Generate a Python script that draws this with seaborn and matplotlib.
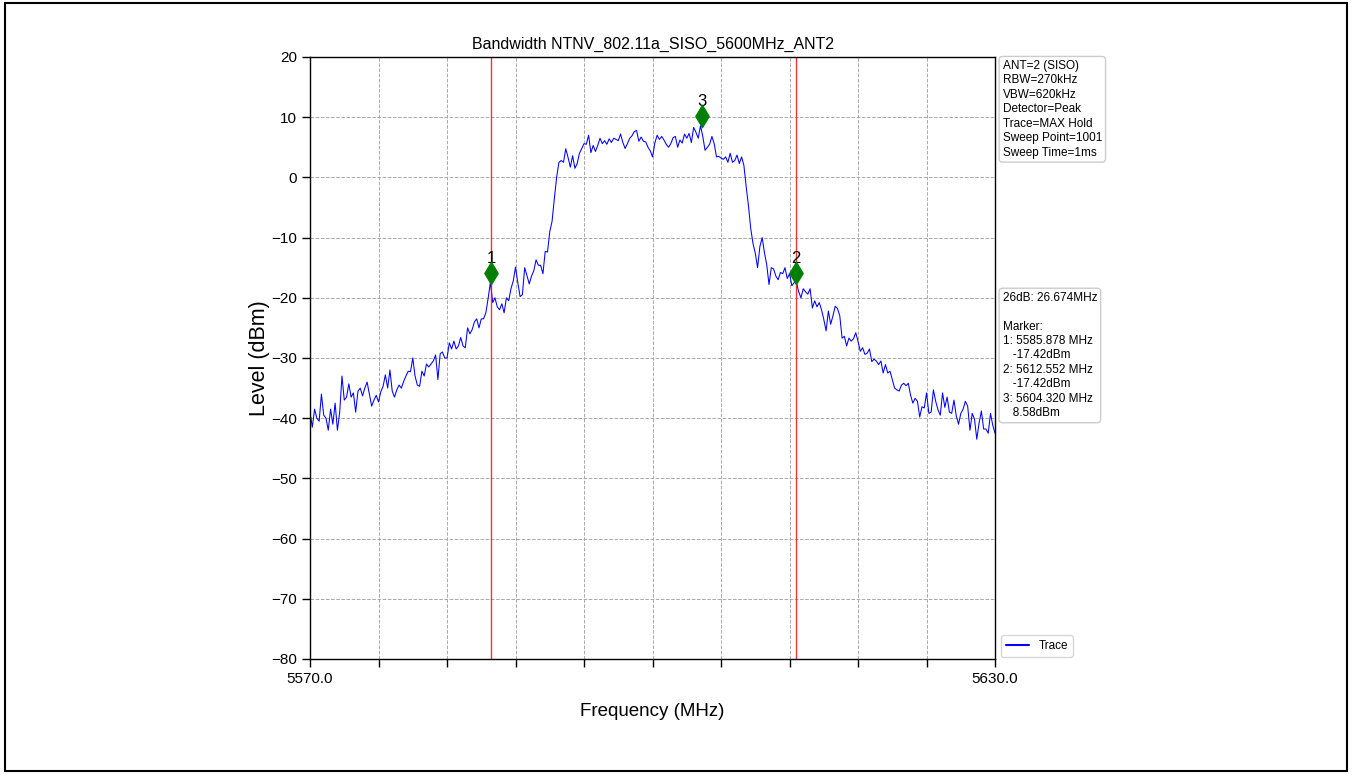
import numpy as np
import pandas as pd
import seaborn as sns
import matplotlib
matplotlib.use('Agg')
import matplotlib.pyplot as plt
from matplotlib.patches import Rectangle

# sweep axis
freq_start = 5570.0
freq_stop = 5630.0
n_points = 301

# trace levels (dBm), 0.2 MHz steps
level_5570_5585 = [
    -39, -41.5, -38.5, -40, -40.5, -36, -39.5, -40, -42, -38.5,
    -41, -37.5, -42, -39, -33, -37, -36.5, -34.3, -36.5, -35.8,
    -39, -35.5, -35, -36.3, -35, -34, -36, -38, -37, -36.2,
    -37.3, -35.6, -34.7, -32.8, -35, -32, -35.5, -36.5, -35.3, -34.5,
    -35, -33.9, -33, -32.2, -32.3, -30, -33, -34.5, -34.7, -32.2,
    -33, -31, -31.5, -31, -30.5, -29.5, -33.6, -29.3, -29, -30,
    -30, -27.5, -28.5, -27.2, -28.5, -28, -26.6, -28, -28.3, -25,
    -26, -25.3, -24, -23.5, -25, -23.5]
level_5585_5600 = [
    -23.5, -22.5, -20.1, -17.42, -20.8, -20, -21.5, -22, -21, -22.5,
    -20, -20.5, -18.5, -17.2, -14.9, -17.5, -19.8, -19.5, -15, -16.3,
    -17.7, -16.4, -15.5, -13.7, -14.6, -14.6, -16, -12.3, -12.4, -9,
    -7.3, -3.5, 0, 2.5, 2.8, 2.5, 4.75, 3.3, 1.7, 3.6,
    1.5, 2.3, 4, 4.8, 5.6, 5.5, 7, 4.1, 5.3, 4.3,
    5.3, 6.5, 5.6, 6.1, 5.5, 6.4, 5.8, 6.5, 6.3, 6.1,
    7.2, 5.8, 4.8, 5.6, 6.5, 6.9, 7.6, 7.8, 6, 6.7,
    6, 5.9, 5, 4.4, 3.4]
level_5600_5615 = [
    5.7, 7, 6.3, 6.8, 6.2, 5.5, 5, 5.6, 6.6, 6.8,
    5, 6.2, 5.7, 7.2, 6.5, 7.3, 5.8, 8.3, 7.5, 6.5,
    8.58, 6.8, 4.5, 5, 5.5, 6.8, 5.6, 3.4, 3.5, 3.2,
    3, 3.4, 2.5, 4, 2.5, 2.8, 3.7, 2.3, 3.4, 2,
    -1.5, -4.7, -8.5, -11, -12.6, -15, -11.5, -10, -12.5, -14.5,
    -17.8, -15, -15.2, -16.4, -17, -15.8, -16, -15, -16.8, -16,
    -18, -17.5, -17.42, -19, -20, -18.5, -19, -19.4, -18.5, -21.7,
    -20.5, -21.5, -20.8, -22]
level_5615_5630 = [
    -23.6, -25.5, -22.2, -24.4, -23, -21.4, -21.8, -23, -26.7, -26.4,
    -28, -26.7, -27.2, -26.8, -25.8, -27.3, -28.9, -28.3, -29.4, -29.2,
    -28.5, -30.6, -30.2, -30.5, -31.1, -30.5, -32.5, -31.1, -32.5, -32.2,
    -33.6, -35, -35.3, -35.5, -34.5, -34.2, -34.6, -34.2, -36.2, -37.5,
    -36.7, -37.2, -39.8, -38.1, -38.3, -35.8, -39.2, -39, -35.3, -37.2,
    -38.6, -39.5, -35.8, -38.2, -36.5, -39, -39.2, -37, -39.6, -41,
    -39.2, -38.5, -37.2, -38, -42, -39.2, -40.2, -43.5, -40.8, -38.8,
    -41.8, -41.8, -42.5, -39.2, -41.2, -42.5]

# markers
marker_name = ['1', '2', '3']
marker_freq = [5585.878, 5612.552, 5604.320]
marker_level = [-17.42, -17.42, 8.58]

yticks = list(range(-80, 21, 10))
xticks = list(range(5570, 5631, 6))
xtick_labels = ['5570.0'] + [''] * 9 + ['5630.0']

info_text = ("ANT=2 (SISO)\nRBW=270kHz\nVBW=620kHz\nDetector=Peak\n"
             "Trace=MAX Hold\nSweep Point=1001\nSweep Time=1ms")
marker_text = ("26dB: 26.674MHz\n\nMarker:\n"
               "1: 5585.878 MHz\n   -17.42dBm\n"
               "2: 5612.552 MHz\n   -17.42dBm\n"
               "3: 5604.320 MHz\n   8.58dBm")


sns.set_style('ticks')
plt.rcParams['font.family'] = ['Liberation Sans', 'DejaVu Sans']
plt.rcParams['text.color'] = 'black'
plt.rcParams['axes.labelcolor'] = 'black'
plt.rcParams['xtick.color'] = 'black'
plt.rcParams['ytick.color'] = 'black'

trace = level_5570_5585 + level_5585_5600 + level_5600_5615 + level_5615_5630
df = pd.DataFrame({'Frequency': np.linspace(freq_start, freq_stop, n_points),
                   'Level': trace})
mk = pd.DataFrame({'Frequency': marker_freq,
                   'Level': np.array(marker_level) + 1.6})

fig = plt.figure(figsize=(13.52, 7.74), dpi=100)
ax = fig.add_axes([0.2293, 0.1486, 0.5067, 0.7778])

sns.lineplot(data=df, x='Frequency', y='Level', color='blue', lw=0.75,
             label='Trace', ax=ax)
for f in marker_freq[:2]:
    ax.axvline(f, color='red', lw=1.0, alpha=0.8)
sns.scatterplot(data=mk, x='Frequency', y='Level', marker='d', s=130,
                color='green', edgecolor='green', legend=False, zorder=5, ax=ax)
for n, f, y in zip(marker_name, mk['Frequency'], mk['Level']):
    ax.annotate(n, (f, y), xytext=(0, 5), textcoords='offset points',
                ha='center', va='bottom', fontsize=12)

ax.set_xlim(freq_start, freq_stop)
ax.set_ylim(-80, 20)
ax.set_xticks(xticks)
ax.set_xticklabels(xtick_labels)
ax.set_yticks(yticks)
ax.tick_params(direction='out', length=6, width=1, labelsize=11)
ax.grid(True, ls='--', color='#aaaaaa', lw=0.7)
for s in ax.spines.values():
    s.set_color('black')
    s.set_linewidth(1)

ax.set_title('Bandwidth NTNV_802.11a_SISO_5600MHz_ANT2', fontsize=11.5)
ax.set_xlabel('Frequency (MHz)', fontsize=13.5, labelpad=12)
ax.set_ylabel('Level (dBm)', fontsize=15.5, labelpad=1)

box = dict(boxstyle='round,pad=0.3', fc='white', ec='#cccccc')
ax.text(1.011, 0.995, info_text, transform=ax.transAxes, va='top', ha='left',
        fontsize=8.5, linespacing=1.27, bbox=box)
ax.text(1.011, 0.61, marker_text, transform=ax.transAxes, va='top', ha='left',
        fontsize=8.5, linespacing=1.27, bbox=box)

leg = ax.legend(loc='lower left', bbox_to_anchor=(1.005, 0.0), fontsize=8.5,
                borderaxespad=0.2, handlelength=2.0)
for ln in leg.get_lines():
    ln.set_color('blue')
    ln.set_linewidth(1.5)

fig.patches.append(Rectangle((5 / 1352, 3 / 774), 1342 / 1352, 768 / 774,
                             transform=fig.transFigure, fill=False,
                             ec='black', lw=1.5))

plt.savefig('out.png', dpi=100)
